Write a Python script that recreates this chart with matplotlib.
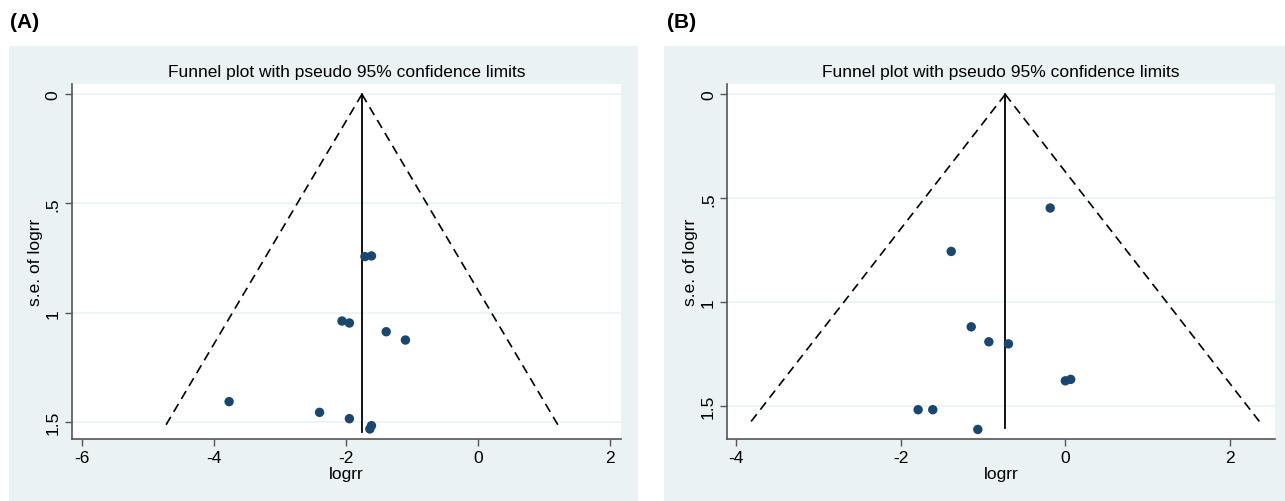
import numpy as np
import matplotlib
matplotlib.use("Agg")
import matplotlib.pyplot as plt
from matplotlib.patches import Rectangle

plt.rcParams['font.family'] = ['Liberation Sans', 'DejaVu Sans']

# panel A data (logrr, s.e. of logrr)
logrr_a = [-1.715, -1.616, -2.062, -1.950, -1.393, -1.102, -3.771, -2.402, -1.950, -1.616, -1.641]
se_a = [0.743, 0.740, 1.038, 1.047, 1.087, 1.125, 1.407, 1.456, 1.485, 1.517, 1.532]
theta_a = -1.76
se_max_a = 1.535

# panel B data
logrr_b = [-0.184, -1.386, -1.143, -0.929, -0.691, 0.000, 0.065, -1.788, -1.610, -1.063]
se_b = [0.547, 0.756, 1.119, 1.191, 1.201, 1.379, 1.372, 1.518, 1.518, 1.613]
theta_b = -0.73
se_max_b = 1.595

y_ticks = [0, 0.5, 1, 1.5]
y_labels = ["0", ".5", "1", "1.5"]

bg = "#EAF2F3"
navy = "#1A476F"
axcol = "#555555"
fs = 12.5

fig = plt.figure(figsize=(12.85, 5.02), dpi=100)

# gray panel backgrounds (behind the axes)
fig.patches.append(Rectangle((9/1285, 0), 629/1285, 455/502, transform=fig.transFigure,
                             facecolor=bg, edgecolor="none", zorder=-10))
fig.patches.append(Rectangle((664/1285, 0), 621/1285, 455/502, transform=fig.transFigure,
                             facecolor=bg, edgecolor="none", zorder=-10))


def funnel(ax, x, se, theta, se_max, xlim, ylim, xticks):
    ax.set_facecolor("white")
    se_line = np.array([0, se_max])
    ax.plot(theta - 1.96 * se_line, se_line, color="black", ls=(0, (5.5, 3.5)), lw=1.2)
    ax.plot(theta + 1.96 * se_line, se_line, color="black", ls=(0, (5.5, 3.5)), lw=1.2)
    ax.plot([theta, theta], [0, se_max + 0.01], color="black", lw=1.3)
    ax.scatter(x, se, s=46, color=navy, zorder=3, edgecolors="none")
    ax.set_xlim(*xlim)
    ax.set_ylim(ylim[1], ylim[0])
    ax.set_xticks(xticks)
    ax.set_xticklabels([str(t) for t in xticks])
    ax.set_yticks(y_ticks)
    ax.set_yticklabels(y_labels, rotation=90, va="center")
    ax.grid(axis="y", color=bg, lw=1.2)
    ax.set_axisbelow(True)
    for s in ["top", "right"]:
        ax.spines[s].set_visible(False)
    for s in ["left", "bottom"]:
        ax.spines[s].set_color(axcol)
        ax.spines[s].set_linewidth(1.2)
    ax.tick_params(direction="out", length=5, width=1, color=axcol, labelsize=fs,
                   labelcolor="black", pad=3)
    ax.set_xlabel("logrr", fontsize=fs, labelpad=1)
    ax.set_ylabel("s.e. of logrr", fontsize=fs, labelpad=2)
    ax.set_title("Funnel plot with pseudo 95% confidence limits", fontsize=fs, pad=6)


ax1 = fig.add_axes([71.6/1285, 1 - 440/502, 549.4/1285, 355/502])
funnel(ax1, logrr_a, se_a, theta_a, se_max_a, (-6.155, 2.161), (-0.047, 1.578), [-6, -4, -2, 0, 2])

ax2 = fig.add_axes([727/1285, 1 - 440/502, 548/1285, 355/502])
funnel(ax2, logrr_b, se_b, theta_b, se_max_b, (-4.109, 2.546), (-0.05, 1.659), [-4, -2, 0, 2])

fig.text(10/1285, 1 - 22/502, "(A)", fontsize=15, fontweight="bold", va="center")
fig.text(667/1285, 1 - 22/502, "(B)", fontsize=15, fontweight="bold", va="center")

fig.savefig("out.png", dpi=100)
